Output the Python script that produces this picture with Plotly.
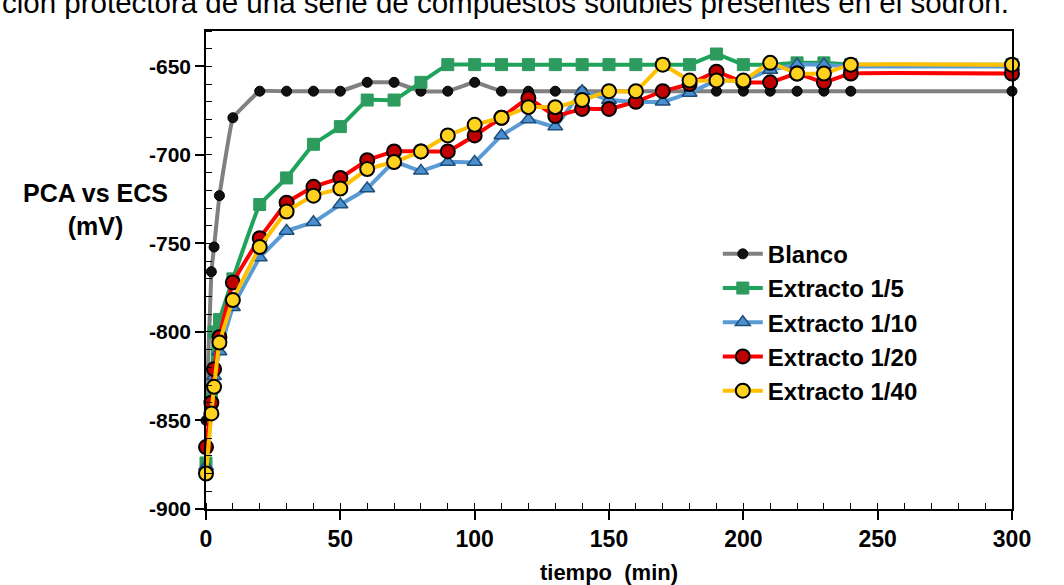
import plotly.graph_objects as go

# ---- data ----
t_blanco = [0, 2, 3, 5, 10, 20, 30, 40, 50, 60, 70, 80, 90, 100, 110, 120, 130, 140,
            150, 160, 170, 180, 190, 200, 210, 220, 230, 240, 300]
blanco = [-850, -766, -752, -723, -679, -664, -664, -664, -664, -659, -659, -664, -664,
          -659, -664, -664, -664, -664, -664, -664, -664, -664, -664, -664, -664, -664,
          -664, -664, -664]

t_ext = [0, 2, 3, 5, 10, 20, 30, 40, 50, 60, 70, 80, 90, 100, 110, 120, 130, 140,
         150, 160, 170, 180, 190, 200, 210, 220, 230, 240, 300]
ext_1_5 = [-874, -838, -800, -793, -770, -728, -713, -694, -684, -669, -669, -659, -649,
           -649, -649, -649, -649, -649, -649, -649, -649, -649, -643, -649, -649, -648,
           -648, -649, -649]
ext_1_10 = [-876, -845, -825, -811, -786, -758, -743, -738, -728, -719, -704, -709, -704,
            -704, -689, -680, -684, -664, -669, -670, -670, -665, -658, -658, -652, -649,
            -649, -650, -650]
ext_1_20 = [-865, -840, -821, -803, -772, -747, -727, -718, -713, -703, -698, -698, -698,
            -689, -679, -668, -678, -674, -674, -670, -664, -660, -653, -659, -659, -654,
            -659, -654, -654]
ext_1_40 = [-880, -846, -831, -806, -782, -752, -732, -723, -719, -708, -704, -698, -689,
            -683, -679, -673, -673, -669, -664, -664, -649, -658, -658, -658, -648, -654,
            -654, -649, -649]

names = ["Blanco", "Extracto 1/5", "Extracto 1/10", "Extracto 1/20", "Extracto 1/40"]
x_ticks = [0, 50, 100, 150, 200, 250, 300]
y_ticks = [-900, -850, -800, -750, -700, -650]

FONT = "Liberation Sans, Arial, sans-serif"

fig = go.Figure()

styles = [
    (t_blanco, blanco, "#808080", dict(symbol="circle", size=10, color="#111111",
                                        line=dict(color="#000000", width=1))),
    (t_ext, ext_1_5, "#1EA45A", dict(symbol="square", size=12, color="#2E9B5E",
                                      line=dict(color="#2E9B5E", width=1))),
    (t_ext, ext_1_10, "#5B9BD5", dict(symbol="triangle-up", size=13, color="#4A8FD0",
                                       line=dict(color="#1F4E79", width=1.5))),
    (t_ext, ext_1_20, "#FF0000", dict(symbol="circle", size=14, color="#C00000",
                                       line=dict(color="#000000", width=2))),
    (t_ext, ext_1_40, "#FFC000", dict(symbol="circle", size=14, color="#FFD21F",
                                       line=dict(color="#000000", width=2))),
]

for i, (xs, ys, lc, mk) in enumerate(styles):
    fig.add_trace(go.Scatter(
        x=xs, y=ys, name=names[i], mode="lines+markers",
        line=dict(color=lc, width=4, shape="spline", smoothing=0.2),
        marker=mk, legendgroup=f"g{i}", cliponaxis=False,
    ))

fig.update_layout(
    width=1064, height=585,
    margin=dict(l=206, r=52, t=31, b=76),
    paper_bgcolor="white", plot_bgcolor="white",
    font=dict(family=FONT, color="black"),
    showlegend=True,
    legend=dict(x=0.635, y=0.58, xanchor="left", yanchor="top",
                bgcolor="rgba(0,0,0,0)", tracegroupgap=0,
                font=dict(family=FONT, size=24, color="black", weight="bold"),
                itemwidth=40),
    xaxis=dict(range=[0, 300], tickvals=x_ticks, ticktext=[str(v) for v in x_ticks],
               automargin=False,
               showgrid=False, zeroline=False, showline=True, linecolor="black",
               linewidth=1.5, mirror=True, ticks="outside", ticklen=9, tickwidth=1.5,
               tickcolor="black",
               minor=dict(dtick=10, ticks="inside", ticklen=6, tickcolor="black",
                          tickwidth=1, showgrid=False),
               tickfont=dict(family=FONT, size=23, color="black", weight="bold"),
               title=dict(text="tiempo  (min)", standoff=16,
                          font=dict(family=FONT, size=22, color="black", weight="bold"))),
    yaxis=dict(range=[-900, -630], tickvals=y_ticks, ticktext=[str(v) for v in y_ticks],
               automargin=False,
               showgrid=False, zeroline=False, showline=True, linecolor="black",
               linewidth=1.5, mirror=True, ticks="outside", ticklen=9, tickwidth=1.5,
               tickcolor="black",
               minor=dict(dtick=10, ticks="inside", ticklen=6, tickcolor="black",
                          tickwidth=1, showgrid=False),
               tickfont=dict(family=FONT, size=21, color="black", weight="bold")),
)

# y axis title (horizontal, two lines, centred)
fig.add_annotation(text="PCA vs ECS<br>(mV)", xref="paper", yref="paper",
                   x=-0.1365, y=0.626, xanchor="center", yanchor="middle", showarrow=False,
                   align="center",
                   font=dict(family=FONT, size=25, color="black", weight="bold"))

# cropped caption at the top
fig.add_annotation(text="ción protectora de una serie de compuestos solubles presentes en el sodrón.",
                   xref="paper", yref="paper", x=-0.2556, y=1.06,
                   xanchor="left", yanchor="middle", showarrow=False,
                   font=dict(family=FONT, size=29.5, color="black"))

fig.write_html("out.html", config={"displayModeBar": False},
               post_script="document.body.style.margin='0px';")
